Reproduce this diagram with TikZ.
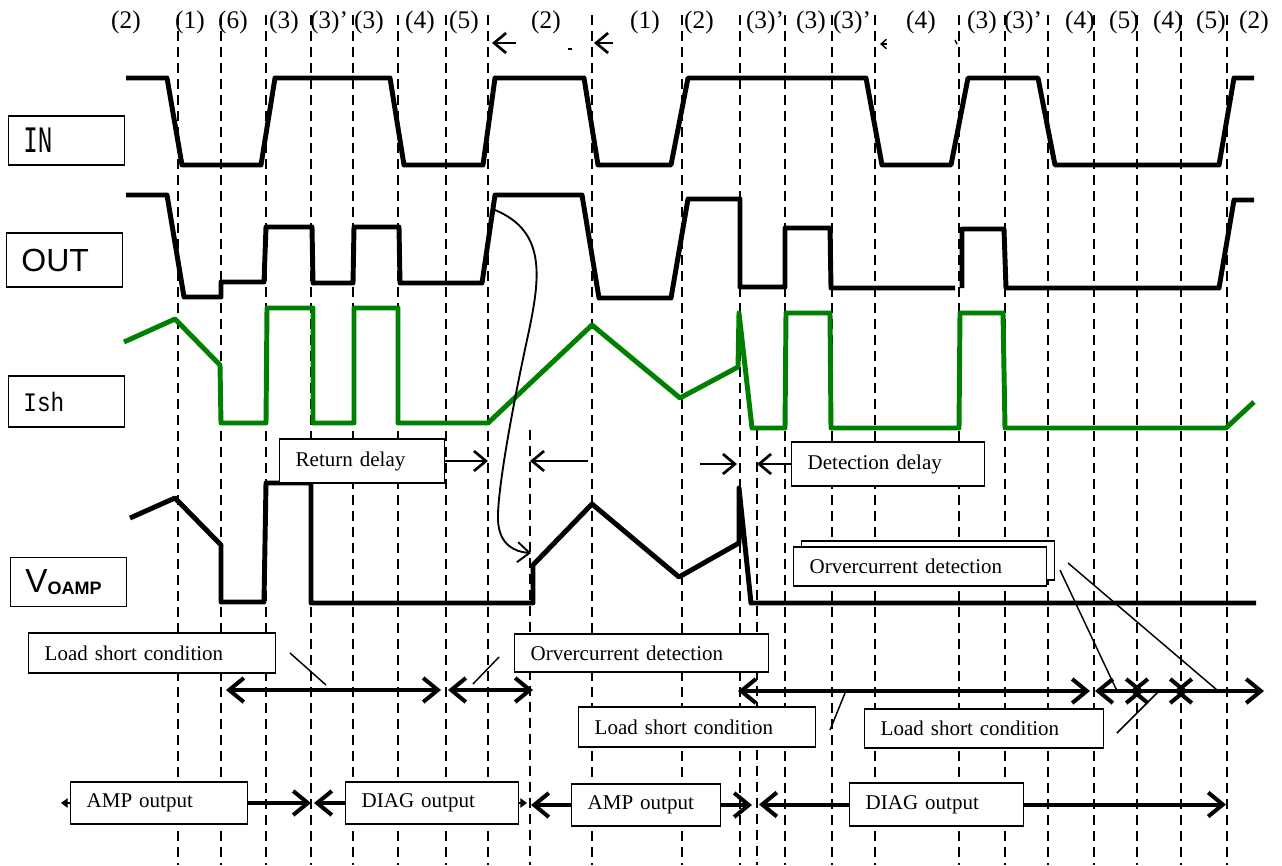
\documentclass[tikz,border=0pt]{standalone}
\usepackage{fontspec}
\setmainfont{Liberation Serif}
\newfontfamily\sansfnt{Liberation Sans}
\newfontfamily\monofnt[FakeStretch=0.65]{Liberation Mono}
\newfontfamily\ishfnt[FakeStretch=0.85]{Liberation Mono}
\usepackage{tikz}
\usetikzlibrary{positioning, arrows.meta}
\definecolor{ishgreen}{RGB}{0,128,0}
\newcommand{\bxfont}{\fontsize{15.75}{18}\selectfont}
\tikzset{Sig/.style={draw, line width=3.7pt, line join=round}}
\tikzset{D/.style={draw, dash pattern=on 7.5pt off 4.5pt, line width=1.1pt}}
\tikzset{N/.style={draw, line width=1.1pt, anchor=west, align=left, inner xsep=11pt, text width=65pt}}
\tikzset{Bx/.style 2 args={draw, fill=white, line width=1.1pt, anchor=west, align=left, inner xsep=12pt, text width=#1, minimum height=#2, font=\bxfont}}
\tikzset{T/.style={font=\fontsize{19}{22}\selectfont, inner sep=0pt}}
\tikzset{R/.style={draw, line width=3pt, >={Straight Barb[length=11pt,width=18pt]}}}
\tikzset{P/.style={draw, line width=2pt, >={Straight Barb[length=9pt,width=15pt]}}}
\tikzset{Q/.style={draw, line width=1.1pt}}
\tikzset{Tri/.style={draw, line width=1pt, -{Triangle[length=5pt,width=7pt]}}}

\begin{document}
\begin{tikzpicture}[x=0.75pt, y=-0.75pt]
        \useasboundingbox (0,0) rectangle (1282,865);
        %% Time marks
        \foreach \x in {178,221,266,311,353,398,446,488,592,682,740,785,832,875,959,1005,1048,1094,1137,1181,1227}
            \draw[D] (\x,15) -- (\x,865);
        \foreach \x in {530,757}
            \draw[D] (\x,430) -- (\x,865);
        %% Phase labels
        \foreach \x/\t [count=\i] in {126/{(2)},190/{(1)},233/{(6)},284/{(3)},329/{(3)'},369/{(3)},420/{(4)},464/{(5)},546/{(2)},645/{(1)},699/{(2)},765/{(3)'},811/{(3)},852/{(3)'},921/{(4)},982/{(3)},1023/{(3)'},1080/{(4)},1124/{(5)},1168/{(4)},1211/{(5)},1254/{(2)}}
            \node[T] (ph\i) at (\x,22) {\t};
        \coordinate (ta1) at (516,43);
        \coordinate (ta1t) at (492,43);
        \draw[P,->] (ta1) -- (ta1t);
        \coordinate (ta2) at (613,43);
        \coordinate (ta2t) at (594,43);
        \draw[P,->] (ta2) -- (ta2t);
        \coordinate (ta3) at (887,44);
        \coordinate (ta3t) at (880,44);
        \draw[Q,-{Straight Barb[length=4pt,width=7pt]}] (ta3) -- (ta3t);
        \draw[Q] (568,49) -- (572,49);
        \draw[Q] (955,40) -- (957,44);
        %% Signal names
        \node[N, minimum height=36.75pt, font=\monofnt\fontsize{28}{29}\selectfont] (lin) at (8,140.5) {IN};
        \node[N, minimum height=40.5pt, font=\sansfnt\fontsize{24}{26}\selectfont] (lout) at (6,260) {OUT};
        \node[N, minimum height=38pt, font=\ishfnt\fontsize{20}{22}\selectfont] (lish) at (8,401.5) {Ish};
        \node[N, minimum height=36.75pt, font=\sansfnt\fontsize{25}{26}\selectfont] (lvo) at (10,582) {V\raisebox{-2pt}{\fontsize{13.5}{14}\selectfont\bfseries OAMP}};
        %% IN
        \draw[Sig] (126,78) -- (167,78) -- (182,165) -- (261,165) -- (275,78) -- (390,78) -- (404,165) -- (483,165) -- (495,78) -- (584,78) -- (598,165) -- (671,165) -- (688,78) -- (866,78) -- (882,165) -- (951,165) -- (968,78) -- (1038,78) -- (1055,165) -- (1219,165) -- (1234,78) -- (1254,78);
        %% OUT
        \draw[Sig] (126,195) -- (167,195) -- (184,297) -- (221,297) -- (221,282) -- (264,282) -- (266,227) -- (312,227) -- (313,283) -- (353,283) -- (354,227) -- (399,227) -- (400,283) -- (482,283) -- (495,195) -- (582,195) -- (599,298) -- (671,298) -- (688,199) -- (740,199) -- (740,287) -- (785,287) -- (785,228) -- (830,228) -- (831,288) -- (955,288);
        \draw[Sig] (962,288) -- (962,229) -- (1004,229) -- (1006,288) -- (1219,288) -- (1234,200) -- (1254,200);
        %% Ish
        \draw[Sig, ishgreen] (124,342) -- (175,319) -- (220,365) -- (221,423) -- (266,423) -- (267,308) -- (313,308) -- (313,423) -- (354,423) -- (354,308) -- (398,308) -- (398,423) -- (488,423) -- (592,325) -- (680,398) -- (738,367) -- (739,313) -- (752,428) -- (785,428) -- (786,313) -- (830,313) -- (831,428) -- (959,428) -- (960,313) -- (1003,313) -- (1005,428) -- (1226,428) -- (1254,402);
        %% VOAMP
        \draw[Sig] (130,518) -- (175,498) -- (221,545) -- (221,602) -- (264,602) -- (266,483) -- (311,483) -- (311,603) -- (533,603) -- (533,565) -- (592,504) -- (679,577) -- (739,543) -- (739,488) -- (751,603) -- (1256,603);
        %% Link OUT -> VOAMP
        \coordinate (cvs) at (495,210);
        \coordinate (cve) at (531,553);
        \draw[P, line width=1.4pt, ->] (cvs) .. controls (548,232) and (540,280) .. (527,340) .. controls (514,400) and (497,490) .. (498,520) .. controls (499,545) and (515,552) .. (cve);
        %% Delays
        \node[Bx={99.75pt}{33pt}] (rd) at (279,461) {Return delay};
        \coordinate (rdt) at (488,461);
        \draw[P,->] (rd.east) -- (rdt);
        \coordinate (rd2) at (588,461);
        \coordinate (rd2t) at (530,461);
        \draw[P,->] (rd2) -- (rd2t);
        \node[Bx={120.75pt}{33pt}] (dd) at (791,464) {Detection delay};
        \coordinate (dd1) at (700,464);
        \coordinate (dd1t) at (737,464);
        \draw[P,->] (dd1) -- (dd1t);
        \coordinate (ddt) at (757,464);
        \draw[P,->] (dd.west) -- (ddt);
        %% Overcurrent detection (stacked)
        \node[Bx={165.75pt}{29pt}] (ocb) at (800.5,560.5) {};
        \node[Bx={165.75pt}{29pt}] (oc2) at (793,566.5) {Orvercurrent detection};
        \coordinate (l5a) at (1060,570);
        \coordinate (l5b) at (1117,691);
        \draw[Q] (l5a) -- (l5b);
        \coordinate (l6a) at (1068,563);
        \coordinate (l6b) at (1217,690);
        \draw[Q] (l6a) -- (l6b);
        %% Condition spans
        \coordinate (r1a) at (226,690);
        \coordinate (r1b) at (441,690);
        \coordinate (r1c) at (448,690);
        \coordinate (r1d) at (533,690);
        \coordinate (r1e) at (738,691);
        \coordinate (r1f) at (1090,691);
        \coordinate (r1g) at (1095,691);
        \coordinate (r1h) at (1144,691);
        \coordinate (r1i) at (1130,691);
        \coordinate (r1j) at (1188,691);
        \coordinate (r1k) at (1174,691);
        \coordinate (r1l) at (1264,691);
        \draw[R,<->] (r1a) -- (r1b);
        \draw[R,<->] (r1c) -- (r1d);
        \draw[R,<->] (r1e) -- (r1f);
        \draw[R,<->] (r1g) -- (r1h);
        \draw[R,<->] (r1i) -- (r1j);
        \draw[R,<->] (r1k) -- (r1l);
        \node[Bx={161.25pt}{30pt}] (ls1) at (28,653) {Load short condition};
        \node[Bx={166.5pt}{28.5pt}] (oc1) at (514,653) {Orvercurrent detection};
        \node[Bx={153.75pt}{30pt}] (ls2) at (578,727) {Load short condition};
        \node[Bx={155.25pt}{29pt}] (ls3) at (864,728.5) {Load short condition};
        \coordinate (l1a) at (290,653);
        \coordinate (l1b) at (326,685);
        \draw[Q] (l1a) -- (l1b);
        \coordinate (l2a) at (499,657);
        \coordinate (l2b) at (473,684);
        \draw[Q] (l2a) -- (l2b);
        \coordinate (l3a) at (830,730);
        \coordinate (l3b) at (845,693);
        \draw[Q] (l3a) -- (l3b);
        \coordinate (l4a) at (1117,733);
        \coordinate (l4b) at (1160,690);
        \draw[Q] (l4a) -- (l4b);
        %% Output modes
        \node[Bx={108.75pt}{31.5pt}] (amp1) at (70,803) {AMP output};
        \node[Bx={105.75pt}{31.5pt}] (diag1) at (345,803) {DIAG output};
        \node[Bx={87.75pt}{31.5pt}] (amp2) at (571,805) {AMP output};
        \node[Bx={106.5pt}{32pt}] (diag2) at (849,804.5) {DIAG output};
        \coordinate (b1) at (61,803);
        \coordinate (b2) at (311,803);
        \coordinate (b3) at (314,803);
        \coordinate (b4) at (527,803);
        \coordinate (b5) at (531,805);
        \coordinate (b6) at (752,805);
        \coordinate (b7) at (759,804.5);
        \coordinate (b8) at (1226,804.5);
        \draw[Tri] (amp1.west) -- (b1);
        \draw[R,->] (amp1.east) -- (b2);
        \draw[R,->] (diag1.west) -- (b3);
        \draw[Tri] (diag1.east) -- (b4);
        \draw[R,->] (amp2.west) -- (b5);
        \draw[R,->] (amp2.east) -- (b6);
        \draw[R,->] (diag2.west) -- (b7);
        \draw[R,->] (diag2.east) -- (b8);
        \end{tikzpicture}
\end{document}
